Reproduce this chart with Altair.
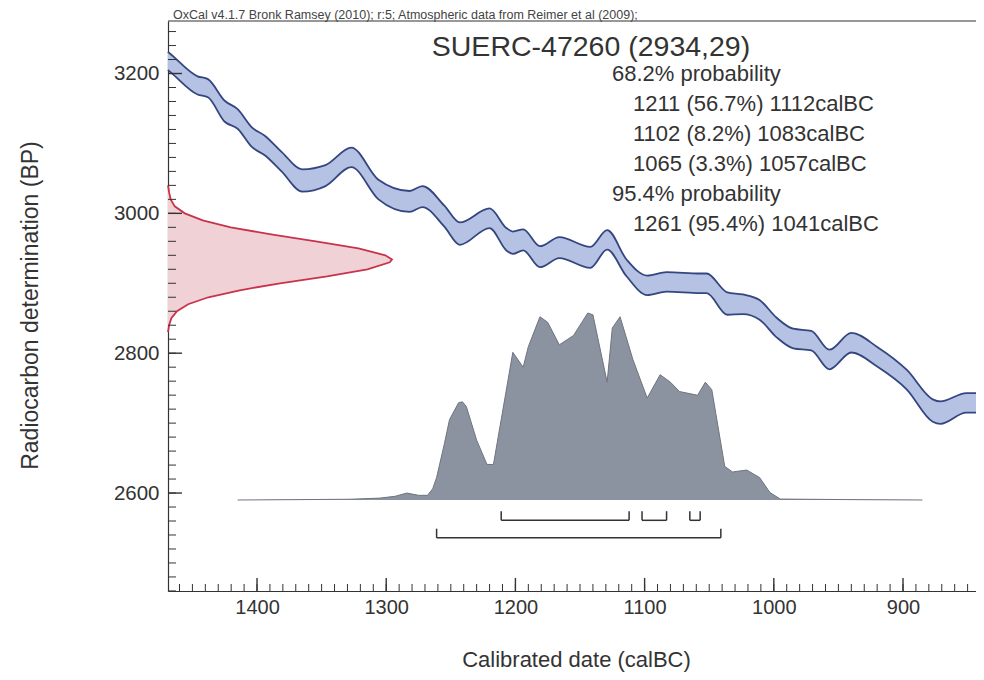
import altair as alt
import pandas as pd

# ---------------- data ----------------
# calibration curve (IntCal09) : calendar year (calBC), mean BP, 1-sigma
cal_year = [1469, 1467, 1446, 1438, 1425, 1415, 1404, 1394, 1381, 1365, 1347, 1327,
            1306, 1282, 1272, 1255, 1243, 1220, 1207, 1202, 1194, 1181, 1166, 1142,
            1129, 1114, 1098, 1083, 1057, 1052, 1036, 1024, 1011, 998, 985, 971,
            957, 940, 920, 897, 877, 871, 851, 838]
cal_bp = [3218, 3215, 3183, 3179, 3146, 3135, 3109, 3097, 3074, 3047, 3054, 3080,
          3034, 3017, 3024, 2996, 2971, 2993, 2963, 2958, 2962, 2938, 2951, 2937,
          2962, 2922, 2897, 2902, 2900, 2900, 2871, 2870, 2862, 2837, 2821, 2818,
          2791, 2815, 2795, 2762, 2718, 2715, 2729, 2729]
cal_sigma = [13, 13, 13, 13, 15, 14, 14, 14, 14, 16, 15, 14,
             14, 15, 15, 15, 16, 14, 16, 16, 15, 15, 15, 15,
             14, 12, 14, 14, 14, 14, 16, 14, 14, 14, 14, 14,
             14, 14, 14, 14, 16, 16, 14, 14]

# radiocarbon determination (2934 +/- 29 BP), relative probability
r_bp = [3040, 3030, 3020, 3010, 3000, 2990, 2980, 2970, 2960, 2950, 2940, 2934,
        2930, 2920, 2910, 2900, 2890, 2880, 2870, 2860, 2850, 2840, 2830]
r_prob = [0.0, 0.005, 0.012, 0.03, 0.075, 0.155, 0.28, 0.46, 0.66, 0.85, 0.97, 1.0,
          0.99, 0.89, 0.71, 0.50, 0.32, 0.18, 0.09, 0.04, 0.015, 0.005, 0.0]

# calibrated date distribution, relative probability
dist_year = [1415, 1367, 1328, 1305, 1293, 1284, 1275, 1268, 1264, 1261, 1255, 1251,
             1244, 1241, 1238, 1230, 1222, 1217, 1210, 1202, 1194, 1190, 1181, 1175,
             1166, 1155, 1144, 1140, 1129, 1125, 1119, 1109, 1098, 1088, 1080, 1073,
             1059, 1053, 1048, 1038, 1032, 1021, 1011, 1003, 995, 941, 885]
dist_prob = [0.0, 0.002, 0.004, 0.01, 0.02, 0.037, 0.025, 0.025, 0.06, 0.12, 0.30, 0.43,
             0.52, 0.525, 0.50, 0.32, 0.19, 0.19, 0.47, 0.79, 0.71, 0.82, 0.98, 0.95,
             0.83, 0.88, 1.0, 0.99, 0.63, 0.92, 0.98, 0.75, 0.545, 0.67, 0.63, 0.58,
             0.56, 0.63, 0.59, 0.18, 0.15, 0.16, 0.12, 0.04, 0.005, 0.002, 0.0]

# highest probability ranges
r68_from = [1211, 1102, 1065]
r68_to = [1112, 1083, 1057]
r95_from = [1261]
r95_to = [1041]

x_labels = [1400, 1300, 1200, 1100, 1000, 900]
y_labels = [2600, 2800, 3000, 3200]
x_minor = list(range(1460, 840, -10))
y_minor = list(range(2460, 3280, 20))

header = "OxCal v4.1.7 Bronk Ramsey (2010); r:5; Atmospheric data from Reimer et al (2009);"
title = "SUERC-47260 (2934,29)"
prob_lines = ["68.2% probability", "1211 (56.7%) 1112calBC", "1102 (8.2%) 1083calBC",
              "1065 (3.3%) 1057calBC", "95.4% probability", "1261 (95.4%) 1041calBC"]
prob_indent = [0, 1, 1, 1, 0, 1]

# ---------------- layout / style ----------------
W, H = 808, 570
FONT = "Liberation Sans"
TXT = "#333333"
xs = alt.Scale(domain=[843.5, 1468.9], reverse=True, nice=False, zero=False)
ys = alt.Scale(domain=[2459.9, 3275.1], nice=False, zero=False)
red_x = alt.Scale(domain=[0, 3.607], nice=False, zero=False)
gray_y = alt.Scale(domain=[-0.4867, 2.5616], nice=False, zero=False)

cal = pd.DataFrame({"year": cal_year, "bp": cal_bp, "s": cal_sigma})
cal["lo"] = cal["bp"] - cal["s"]
cal["hi"] = cal["bp"] + cal["s"]
red = pd.DataFrame({"bp": r_bp, "p": r_prob})
dist = pd.DataFrame({"year": dist_year, "p": dist_prob})

LEV68, LEV95, TICK = 2561.0, 2536.0, 13.0
br_h = pd.DataFrame({"a": r68_from + r95_from, "b": r68_to + r95_to,
                     "lev": [LEV68] * len(r68_from) + [LEV95] * len(r95_from)})
br_v = pd.DataFrame({"x": r68_from + r68_to + r95_from + r95_to,
                     "lev": [LEV68] * (2 * len(r68_from)) + [LEV95] * (2 * len(r95_from))})
br_v["top"] = br_v["lev"] + TICK

xaxis = alt.Axis(values=x_labels, format="d", ticks=False, tickSize=0, grid=False,
                 domain=True, domainColor=TXT, domainWidth=1.2, labelFont=FONT,
                 labelFontSize=20, labelColor=TXT, labelPadding=6, labelFlush=False,
                 title="Calibrated date (calBC)", titleFont=FONT, titleFontSize=22,
                 titleFontWeight="normal", titleColor=TXT, titleX=408, titleY=68,
                 titleBaseline="middle", titleAlign="center")
yaxis = alt.Axis(values=y_labels, format="d", ticks=False, tickSize=0, grid=False,
                 domain=True, domainColor=TXT, domainWidth=1.2, labelFont=FONT,
                 labelFontSize=20.5, labelColor=TXT, labelPadding=9,
                 title="Radiocarbon determination (BP)", titleFont=FONT, titleFontSize=23,
                 titleFontWeight="normal", titleColor=TXT, titleX=-138, titleY=284,
                 titleBaseline="middle", titleAlign="center", titleAngle=270)

band = alt.Chart(cal).mark_area(color="#b5c2e4", opacity=1, interpolate="monotone").encode(
    x=alt.X("year:Q", scale=xs, axis=xaxis),
    y=alt.Y("lo:Q", scale=ys, axis=yaxis),
    y2="hi:Q")
band_hi = alt.Chart(cal).mark_line(color="#34467f", strokeWidth=1.8, interpolate="monotone").encode(
    x=alt.X("year:Q", scale=xs, axis=None), y=alt.Y("hi:Q", scale=ys, axis=None))
band_lo = alt.Chart(cal).mark_line(color="#34467f", strokeWidth=1.8, interpolate="monotone").encode(
    x=alt.X("year:Q", scale=xs, axis=None), y=alt.Y("lo:Q", scale=ys, axis=None))

red_area = alt.Chart(red).mark_area(orient="horizontal", color="#f0d2d6", opacity=1,
                                    interpolate="monotone").encode(
    x=alt.X("p:Q", scale=red_x, axis=None), y=alt.Y("bp:Q", scale=ys, axis=None))
red_line = alt.Chart(red).mark_line(color="#c8334b", strokeWidth=1.8).encode(
    x=alt.X("p:Q", scale=red_x, axis=None), y=alt.Y("bp:Q", scale=ys, axis=None),
    order=alt.Order("bp:Q"))

gray_area = alt.Chart(dist).mark_area(color="#8b92a0", opacity=1).encode(
    x=alt.X("year:Q", scale=xs, axis=None), y=alt.Y("p:Q", scale=gray_y, axis=None))
gray_line = alt.Chart(dist).mark_line(color="#6f7480", strokeWidth=1).encode(
    x=alt.X("year:Q", scale=xs, axis=None), y=alt.Y("p:Q", scale=gray_y, axis=None))

bh = alt.Chart(br_h).mark_rule(color="#333333", strokeWidth=1.5).encode(
    x=alt.X("a:Q", scale=xs, axis=None), x2="b:Q", y=alt.Y("lev:Q", scale=ys, axis=None))
bv = alt.Chart(br_v).mark_rule(color="#333333", strokeWidth=1.5).encode(
    x=alt.X("x:Q", scale=xs, axis=None), y=alt.Y("lev:Q", scale=ys, axis=None), y2="top:Q")

xm = alt.Chart(pd.DataFrame({"v": x_minor})).mark_rule(color=TXT, strokeWidth=1).encode(
    x=alt.X("v:Q", scale=xs, axis=None), y=alt.value(H), y2=alt.value(H - 7))
xM = alt.Chart(pd.DataFrame({"v": x_labels})).mark_rule(color=TXT, strokeWidth=1.4).encode(
    x=alt.X("v:Q", scale=xs, axis=None), y=alt.value(H), y2=alt.value(H - 13))
ym = alt.Chart(pd.DataFrame({"v": y_minor})).mark_rule(color=TXT, strokeWidth=1).encode(
    y=alt.Y("v:Q", scale=ys, axis=None), x=alt.value(0), x2=alt.value(8))
yM = alt.Chart(pd.DataFrame({"v": y_labels})).mark_rule(color=TXT, strokeWidth=1.4).encode(
    y=alt.Y("v:Q", scale=ys, axis=None), x=alt.value(0), x2=alt.value(14))

one = pd.DataFrame({"a": [0]})
top_rule = alt.Chart(one).mark_rule(color=TXT, strokeWidth=1.2).encode(
    x=alt.value(0), x2=alt.value(W), y=alt.value(0))
t_header = alt.Chart(one).mark_text(text=header, font=FONT, fontSize=12.5, color="#444444",
                                     align="left", baseline="alphabetic").encode(
    x=alt.value(5), y=alt.value(-2))
t_title = alt.Chart(one).mark_text(text=title, font=FONT, fontSize=28.5, color=TXT,
                                    align="center", baseline="alphabetic").encode(
    x=alt.value(423), y=alt.value(35))

prob_df = pd.DataFrame({"t": prob_lines, "row": list(range(len(prob_lines))),
                        "ind": prob_indent})
t_prob = alt.Chart(prob_df).mark_text(font=FONT, fontSize=22, color=TXT,
                                      align="left", baseline="alphabetic").encode(
    x=alt.X("ind:Q", scale=alt.Scale(domain=[0, 1], range=[444, 465]), axis=None),
    y=alt.Y("row:Q", scale=alt.Scale(domain=[0, 5], range=[60, 210]), axis=None),
    text="t:N")

chart = alt.layer(
    band, band_hi, band_lo, red_area, red_line, gray_area, gray_line,
    bh, bv, xm, xM, ym, yM, top_rule, t_header, t_title, t_prob
).resolve_scale(x="independent", y="independent").properties(
    width=W, height=H,
    autosize=alt.AutoSizeParams(type="none"),
    padding={"left": 160, "top": 13, "right": 0, "bottom": 81},
    background="white",
).configure_view(stroke=None)

chart.save("out.html", embed_options={"renderer": "svg", "actions": False})
